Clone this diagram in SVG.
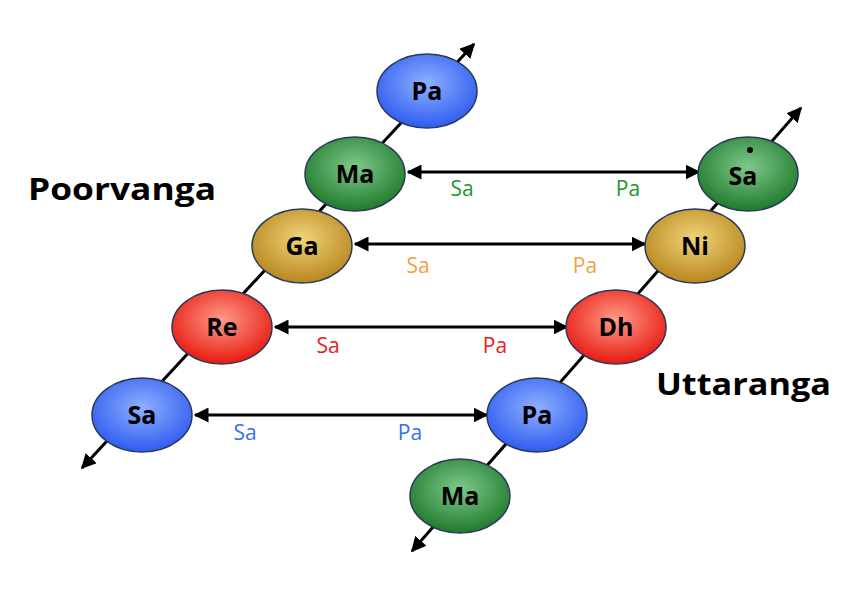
<svg xmlns="http://www.w3.org/2000/svg" width="860" height="593" viewBox="0 0 860 593">
<defs>
<radialGradient id="gb" cx="0.5" cy="0.4" r="0.6"><stop offset="0" stop-color="#8fb0ff"/><stop offset="1" stop-color="#2f5cf0"/></radialGradient>
<radialGradient id="gg" cx="0.5" cy="0.4" r="0.6"><stop offset="0" stop-color="#7fc98a"/><stop offset="1" stop-color="#1f7a2c"/></radialGradient>
<radialGradient id="gy" cx="0.5" cy="0.4" r="0.6"><stop offset="0" stop-color="#f0d47a"/><stop offset="1" stop-color="#b8861e"/></radialGradient>
<radialGradient id="gr" cx="0.5" cy="0.4" r="0.6"><stop offset="0" stop-color="#ff9a8a"/><stop offset="1" stop-color="#e81a10"/></radialGradient>
<marker id="ah" viewBox="0 0 10 10" refX="9" refY="5" markerWidth="5" markerHeight="5" orient="auto-start-reverse"><path d="M0,0L10,5L0,10z" fill="#000"/></marker>
<style>
.n{stroke:#2a3a5a;stroke-width:1.5}
.t{font-family:"Open Sans","Liberation Sans",Arial,sans-serif;font-weight:bold;font-size:25px;text-anchor:middle;fill:#000}
.l{font-family:"Open Sans","Liberation Sans",Arial,sans-serif;font-size:21px;text-anchor:middle}
.h{font-family:"Open Sans","Liberation Sans",Arial,sans-serif;font-weight:bold;font-size:31px}
.c{stroke:#000;stroke-width:3;fill:none}
</style>
</defs>
<rect width="860" height="593" fill="#fff"/>
<g id="connectors">
<line class="c" x1="82" y1="468" x2="474" y2="44" marker-start="url(#ah)" marker-end="url(#ah)"/>
<line class="c" x1="412" y1="551" x2="801" y2="108" marker-start="url(#ah)" marker-end="url(#ah)"/>
<line class="c" x1="408" y1="172" x2="699" y2="172" marker-start="url(#ah)" marker-end="url(#ah)"/>
<line class="c" x1="355" y1="244" x2="645" y2="244" marker-start="url(#ah)" marker-end="url(#ah)"/>
<line class="c" x1="275" y1="327" x2="567" y2="327" marker-start="url(#ah)" marker-end="url(#ah)"/>
<line class="c" x1="195" y1="415" x2="487" y2="415" marker-start="url(#ah)" marker-end="url(#ah)"/>
</g>
<g id="labels">
<text class="l" x="462" y="196" fill="#1a9a2a">Sa</text><text class="l" x="628" y="196" fill="#1a9a2a">Pa</text>
<text class="l" x="418" y="273" fill="#f5a040">Sa</text><text class="l" x="585" y="273" fill="#f5a040">Pa</text>
<text class="l" x="328" y="353" fill="#e82020">Sa</text><text class="l" x="495" y="353" fill="#e82020">Pa</text>
<text class="l" x="245" y="440" fill="#3a6ef5">Sa</text><text class="l" x="410" y="440" fill="#3a6ef5">Pa</text>
<text class="h" x="28" y="200" textLength="188" lengthAdjust="spacingAndGlyphs">Poorvanga</text>
<text class="h" x="656" y="395" textLength="175" lengthAdjust="spacingAndGlyphs">Uttaranga</text>
</g>
<g id="n-pa-top"><ellipse class="n" cx="427" cy="91" rx="50" ry="37" fill="url(#gb)"/><text class="t" x="427" y="100">Pa</text></g>
<g id="n-ma"><ellipse class="n" cx="355" cy="174" rx="50" ry="37" fill="url(#gg)"/><text class="t" x="355" y="183">Ma</text></g>
<g id="n-ga"><ellipse class="n" cx="302" cy="246" rx="50" ry="37" fill="url(#gy)"/><text class="t" x="302" y="255">Ga</text></g>
<g id="n-re"><ellipse class="n" cx="222" cy="327" rx="50" ry="37" fill="url(#gr)"/><text class="t" x="222" y="336">Re</text></g>
<g id="n-sa"><ellipse class="n" cx="142" cy="415" rx="50" ry="37" fill="url(#gb)"/><text class="t" x="142" y="424">Sa</text></g>
<g id="n-sa-high"><ellipse class="n" cx="748" cy="174" rx="50" ry="37" fill="url(#gg)"/><text class="t" x="743" y="185">Sa</text><circle cx="750" cy="150" r="3" fill="#000"/></g>
<g id="n-ni"><ellipse class="n" cx="695" cy="246" rx="50" ry="37" fill="url(#gy)"/><text class="t" x="695" y="255">Ni</text></g>
<g id="n-dh"><ellipse class="n" cx="616" cy="327" rx="50" ry="37" fill="url(#gr)"/><text class="t" x="616" y="336">Dh</text></g>
<g id="n-pa"><ellipse class="n" cx="537" cy="415" rx="50" ry="37" fill="url(#gb)"/><text class="t" x="537" y="424">Pa</text></g>
<g id="n-ma-low"><ellipse class="n" cx="460" cy="496" rx="50" ry="37" fill="url(#gg)"/><text class="t" x="460" y="505">Ma</text></g>
</svg>
